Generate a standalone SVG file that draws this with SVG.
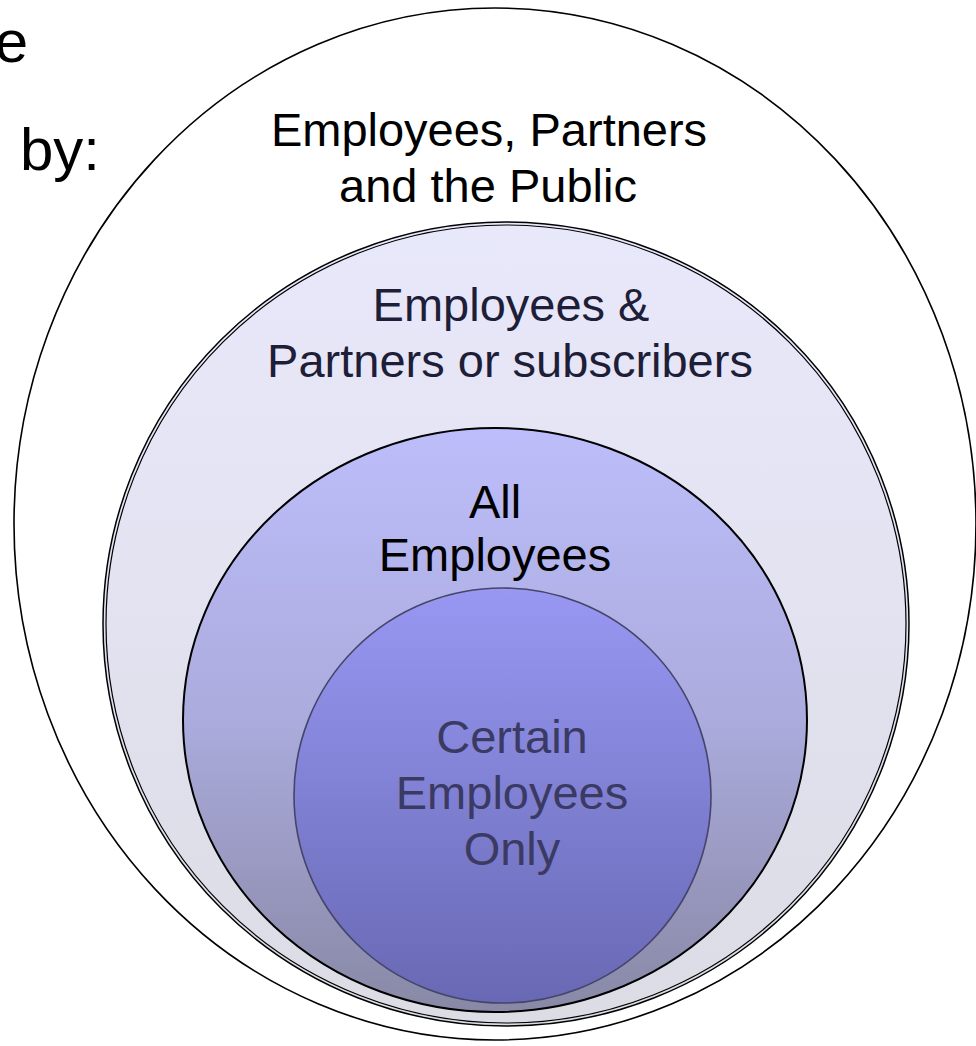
<svg xmlns="http://www.w3.org/2000/svg" width="976" height="1046" viewBox="0 0 976 1046">
<defs>
<linearGradient id="g2" x1="0" y1="0" x2="0" y2="1"><stop offset="0" stop-color="#E8E8FB"/><stop offset="1" stop-color="#DCDCE5"/></linearGradient>
<linearGradient id="g3" x1="0" y1="0" x2="0" y2="1"><stop offset="0" stop-color="#BDBDFB"/><stop offset="0.5" stop-color="#ABABDD"/><stop offset="1" stop-color="#8888A6"/></linearGradient>
<linearGradient id="g4" x1="0" y1="0" x2="0" y2="1"><stop offset="0" stop-color="#9898F3"/><stop offset="1" stop-color="#6868B4"/></linearGradient>
<style>
text{font-family:"Liberation Sans",Arial,sans-serif;font-size:47px;text-anchor:middle}
</style>
</defs>
<rect width="976" height="1046" fill="#FFFFFF"/>
<g id="intro">
<text x="28" y="62" style="font-size:60px;text-anchor:end" fill="#000">e</text>
<text x="100" y="170" style="font-size:60px;text-anchor:end" fill="#000">by:</text>
</g>
<g id="public">
<ellipse cx="495" cy="524" rx="481" ry="516" fill="none" stroke="#000" stroke-width="1.6"/>
<text x="489" y="146" fill="#000">Employees, Partners</text>
<text x="488" y="202" fill="#000">and the Public</text>
</g>
<g id="partners">
<ellipse cx="506" cy="624" rx="403" ry="402" fill="url(#g2)" stroke="#000" stroke-width="1.5"/>
<ellipse cx="506" cy="624" rx="400" ry="399" fill="none" stroke="#000" stroke-width="1.2"/>
<text x="511" y="321" fill="#1E1E38">Employees &amp;</text>
<text x="510" y="377" fill="#1E1E38">Partners or subscribers</text>
</g>
<g id="all">
<ellipse cx="495" cy="720" rx="312" ry="292" fill="url(#g3)" stroke="#000" stroke-width="2"/>
<text x="495" y="518" fill="#000">All</text>
<text x="495" y="571" fill="#000">Employees</text>
</g>
<g id="certain">
<ellipse cx="502.5" cy="795.5" rx="208.5" ry="207.5" fill="url(#g4)" stroke="#45456A" stroke-width="1.6"/>
<text x="512" y="753" fill="#3A3A62">Certain</text>
<text x="512" y="809" fill="#3A3A62">Employees</text>
<text x="512" y="865" fill="#3A3A62">Only</text>
</g>
<g id="connectors"></g>
</svg>
